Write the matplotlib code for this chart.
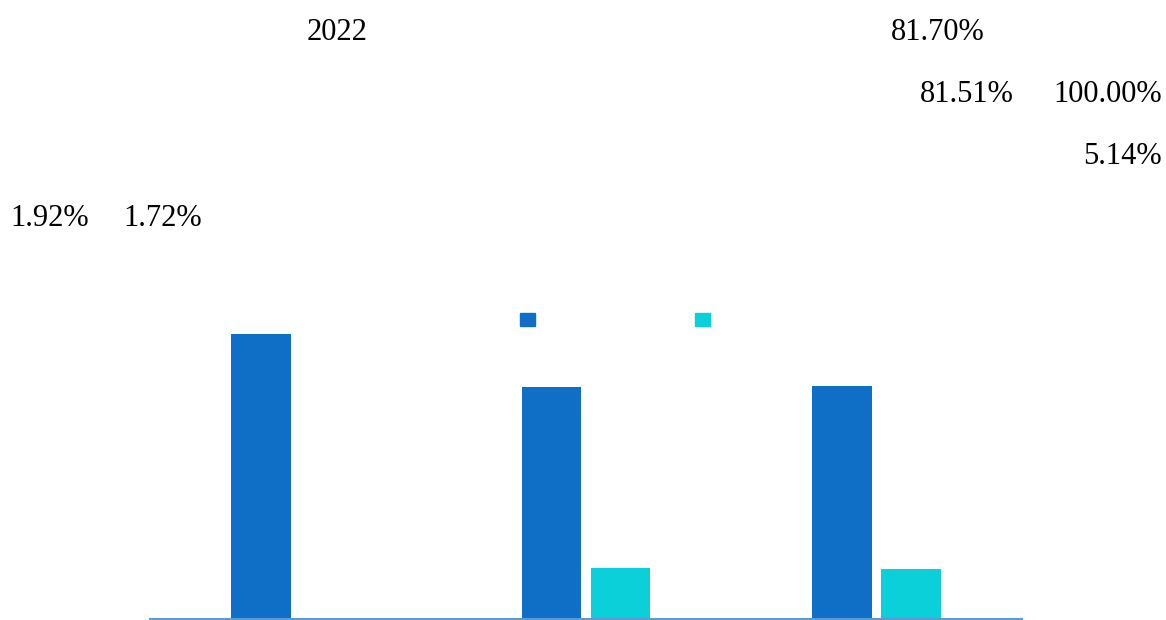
import numpy as np
import matplotlib
matplotlib.use("Agg")
import matplotlib.pyplot as plt
from matplotlib.patches import Patch

# values (first bar taken as 100)
groups = ["", "", ""]
blue_vals = [100.0, 81.51, 81.70]
cyan_vals = [np.nan, 17.9, 17.5]

# loose labels printed above the plot
top_labels = ["2022", "81.70%", "81.51%", "100.00%", "5.14%", "1.92%", "1.72%"]

BLUE = "#0f6fc6"
CYAN = "#0bd0d9"
SPINE = "#5b9bd5"

plt.rcParams["font.family"] = ["Liberation Serif", "DejaVu Serif"]

fig = plt.figure(figsize=(11.66, 6.2), dpi=100)
ax = fig.add_axes([150 / 1166, 1 / 620, 872 / 1166, 319 / 620])

x = np.arange(len(groups))
width = 0.205
offset = 0.119
ax.bar(x - offset, blue_vals, width, color=BLUE)
ax.bar(x + offset, cyan_vals, width, color=CYAN)

ax.set_xlim(-0.5, 2.5)
ax.set_ylim(0, 111.9)
ax.set_xticks([])
ax.set_yticks([])
for side in ("top", "left", "right"):
    ax.spines[side].set_visible(False)
ax.spines["bottom"].set_color(SPINE)
ax.spines["bottom"].set_linewidth(1.5)

# legend: squares only, the labels are blank in the source
handles = [Patch(color=BLUE), Patch(color=CYAN)]
fig.legend(handles, ["", ""], ncol=2, frameon=False,
           loc="center left", bbox_to_anchor=(520 / 1166, 1 - 320 / 620),
           handlelength=1.0, handleheight=1.0, columnspacing=10.67,
           handletextpad=0.0, borderpad=0.0, borderaxespad=0.0, fontsize=10.8)

# text positions in pixels (left edge, vertical centre)
pos = [(307, 33), (891, 33), (920, 95), (1053, 95), (1083, 157), (10, 219), (123, 219)]
for txt, (px, py) in zip(top_labels, pos):
    fig.text(px / 1166, 1 - py / 620, txt, fontsize=22, ha="left", va="center")

fig.savefig("out.png", dpi=100)
